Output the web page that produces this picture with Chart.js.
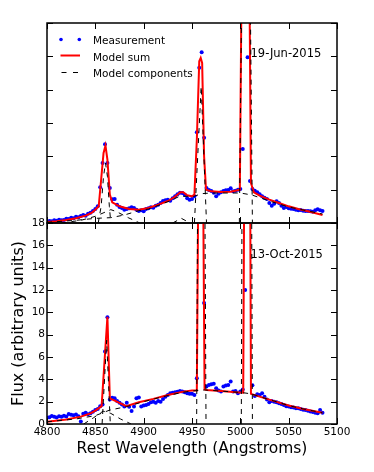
<!DOCTYPE html>
<html>
<head>
<meta charset="utf-8">
<script src="https://cdn.jsdelivr.net/npm/chart.js@4"></script>
<style>
  html, body { margin: 0; padding: 0; background: #fff; }
  #wrap { position: relative; width: 374px; height: 472px; }
  canvas { position: absolute; left: 0; }
  #top { top: 0; }
  #bottom { top: 210px; }
</style>
</head>
<body>
<div id="wrap">
  <canvas id="top" width="374" height="230" style="width:374px;height:230px"></canvas>
  <canvas id="bottom" width="374" height="262" style="width:374px;height:262px"></canvas>
</div>
<script>
// wavelength grid of the spectrum (Angstroms)
const wave = [
  4800, 4802.5, 4805, 4807.5, 4810, 4812.5, 4815, 4817.5, 4820, 4822.5,
  4825, 4827.5, 4830, 4832.5, 4835, 4837.5, 4840, 4842.5, 4845, 4847.5,
  4850, 4852.5, 4855, 4857.5, 4860, 4862.5, 4865, 4867.5, 4870, 4872.5,
  4875, 4877.5, 4880, 4882.5, 4885, 4887.5, 4890, 4892.5, 4895, 4897.5,
  4900, 4902.5, 4905, 4907.5, 4910, 4912.5, 4915, 4917.5, 4920, 4922.5,
  4925, 4927.5, 4930, 4932.5, 4935, 4937.5, 4940, 4942.5, 4945, 4947.5,
  4950, 4952.5, 4955, 4957.5, 4960, 4962.5, 4965, 4967.5, 4970, 4972.5,
  4975, 4977.5, 4980, 4982.5, 4985, 4987.5, 4990, 4992.5, 4995, 4997.5,
  5000, 5002.5, 5005, 5007.5, 5010, 5012.5, 5015, 5017.5, 5020, 5022.5,
  5025, 5027.5, 5030, 5032.5, 5035, 5037.5, 5040, 5042.5, 5045, 5047.5,
  5050, 5052.5, 5055, 5057.5, 5060, 5062.5, 5065, 5067.5, 5070, 5072.5,
  5075, 5077.5, 5080, 5082.5, 5085
];

// 19-Jun-2015 (top panel)
const fluxJun = [
  0.04, 0.06, 0.05, 0.08, 0.07, 0.10, 0.08, 0.09, 0.13, 0.12,
  0.16, 0.14, 0.19, 0.17, 0.21, 0.24, 0.22, 0.28, 0.31, 0.36,
  0.42, 0.50, 1.07, 1.80, 2.36, 1.80, 1.05, 0.71, 0.72, 0.55,
  0.48, 0.45, 0.40, 0.42, 0.44, 0.47, 0.45, 0.40, 0.36, 0.38,
  0.35, 0.42, 0.44, 0.47, 0.46, 0.52, 0.55, 0.60, 0.66, 0.68,
  0.70, 0.67, 0.74, 0.80, 0.86, 0.91, 0.90, 0.85, 0.74, 0.70,
  0.72, 0.80, 2.72, 4.66, 5.12, 2.56, 1.05, 0.99, 0.96, 0.91,
  0.80, 0.88, 0.92, 0.96, 0.98, 0.99, 1.04, 0.95, 0.97, 1.00,
  1.02, 2.22, 12.0, 4.97, 1.26, 1.02, 0.97, 0.92, 0.86, 0.80,
  0.76, 0.72, 0.60, 0.52, 0.58, 0.65, 0.60, 0.52, 0.45, 0.48,
  0.44, 0.43, 0.42, 0.40, 0.38, 0.39, 0.37, 0.36, 0.36, 0.35,
  0.34, 0.38, 0.41, 0.38, 0.36
];
const sumJunX = [4800, 4810, 4820, 4830, 4840, 4846, 4850, 4853.5, 4856, 4858.5,
  4860.5, 4862.5, 4865, 4867.5, 4875, 4885, 4895, 4905, 4915, 4925,
  4932, 4938, 4941, 4945, 4950, 4952.5, 4955, 4957.5, 4959, 4960.5,
  4962.5, 4964.5, 4970, 4980, 4990, 4999.5, 5005.5, 5011, 5014, 5020,
  5030, 5040, 5050, 5060, 5070, 5085];
const sumJunY = [0.03, 0.05, 0.09, 0.14, 0.22, 0.30, 0.40, 0.50, 1.30, 2.10,
  2.32, 1.90, 0.85, 0.62, 0.50, 0.42, 0.40, 0.45, 0.55, 0.66,
  0.78, 0.92, 0.92, 0.83, 0.80, 0.85, 2.50, 4.85, 4.95, 4.80,
  2.00, 1.00, 0.95, 0.93, 0.94, 1.00, 22, 1.20, 0.92, 0.82,
  0.70, 0.60, 0.50, 0.42, 0.35, 0.24];
const contJunX = [4800, 4830, 4850, 4866, 4880, 4895, 4905, 4920, 4930, 4937,
  4945, 4952, 4960, 4970, 5000, 5012, 5030, 5050, 5070, 5085];
const contJunY = [0.02, 0.08, 0.14, 0.16, 0.24, 0.37, 0.42, 0.58, 0.70, 0.80,
  0.80, 0.80, 0.88, 0.90, 0.90, 0.84, 0.66, 0.48, 0.36, 0.27];
const broadJunX = [4815, 4835, 4850, 4858, 4866, 4872, 4884, 4896];
const broadJunY = [0, 0.08, 0.20, 0.30, 0.40, 0.34, 0.16, 0];
const hbJunX = [4853, 4856, 4858.5, 4860.5, 4862.5, 4864.5, 4866];
const hbJunY = [0, 0.5, 1.4, 1.8, 1.4, 0.5, 0];
const bumpJunX = [4930, 4939, 4948];
const bumpJunY = [0, 0.14, 0];
const o3aJunX = [4952.5, 4959.5, 4965];
const o3aJunY = [0, 4.1, 0];
const o3bJunX = [4999, 5006, 5012.5];
const o3bJunY = [0, 20, 0];

// 13-Oct-2015 (bottom panel)
const fluxOct = [
  0.55, 0.60, 0.72, 0.65, 0.58, 0.70, 0.66, 0.75, 0.68, 0.90,
  0.82, 0.78, 0.85, 0.70, 0.22, 0.92, 1.00, 0.88, 0.96, 1.10,
  1.26, 1.35, 1.60, 1.75, 6.50, 9.55, 2.20, 2.35, 2.30, 2.05,
  1.90, 1.75, 1.56, 1.90, 1.55, 1.17, 1.56, 2.30, 2.37, 1.56,
  1.65, 1.70, 1.80, 1.95, 2.00, 1.90, 2.05, 2.00, 2.25, 2.45,
  2.60, 2.75, 2.80, 2.84, 2.88, 2.95, 2.90, 2.85, 2.75, 2.72,
  2.70, 2.60, 4.10, 30.0, 40.0, 10.84, 3.35, 3.50, 3.55, 3.60,
  3.20, 3.00, 2.90, 3.35, 3.45, 3.50, 3.80, 2.90, 2.95, 2.75,
  2.90, 3.10, 12.0, 50.0, 30.0, 3.47, 2.50, 2.66, 2.60, 2.75,
  2.45, 2.20, 1.95, 2.05, 2.00, 1.95, 1.86, 1.80, 1.70, 1.60,
  1.56, 1.50, 1.48, 1.42, 1.40, 1.35, 1.28, 1.25, 1.18, 1.12,
  1.08, 1.00, 0.96, 1.26, 1.00
];
const sumOctX = [4800, 4820, 4835, 4845, 4850, 4856.5, 4862.5, 4865, 4870, 4882,
  4895, 4910, 4925, 4941, 4950, 4955, 4958, 4960, 4963, 4965,
  4980, 4995, 5003, 5006, 5008.5, 5011, 5020, 5035, 5050, 5065, 5085];
const sumOctY = [0.20, 0.40, 0.66, 0.95, 1.20, 1.60, 9.60, 2.30, 2.10, 1.60,
  1.95, 2.25, 2.60, 2.90, 3.00, 3.00, 40, 40, 3.10, 3.05,
  2.95, 2.85, 2.80, 60, 60, 2.70, 2.45, 2.05, 1.65, 1.35, 1.00];
const contOctX = [4800, 4830, 4850, 4865, 4882, 4900, 4920, 4941, 4955, 4963,
  4980, 5003, 5011, 5020, 5035, 5050, 5065, 5085];
const contOctY = [0.20, 0.45, 0.75, 1.25, 1.55, 2.00, 2.45, 2.85, 3.00, 3.05,
  2.95, 2.80, 2.70, 2.45, 2.05, 1.65, 1.35, 1.00];
const broadOctX = [4838, 4848, 4858, 4866, 4876, 4887];
const broadOctY = [0, 0.55, 1.15, 0.95, 0.45, 0];
const hbOctX = [4857, 4861.7, 4865.5];
const hbOctY = [0, 7.5, 0];
const o3aOctX = [4954.8, 4959.3, 4964.5];
const o3aOctY = [0, 90, 0];
const o3bOctX = [5001, 5006.5, 5012.5];
const o3bOctY = [0, 150, 0];

// ticks
const xTicks = [4800, 4850, 4900, 4950, 5000, 5050, 5100];
const yTicksJun = [0, 1, 2, 3, 4, 5, 6];
const yTicksOct = [0, 2, 4, 6, 8, 10, 12, 14, 16, 18];

const FONT = "'DejaVu Sans', sans-serif";
Chart.defaults.font.family = FONT;
Chart.defaults.color = '#000';

function xy(xs, ys) {
  return xs.map((x, i) => ({ x: x, y: ys[i] }));
}
function dashed(xs, ys) {
  return { data: xy(xs, ys), showLine: true, borderColor: '#000', borderWidth: 1,
    borderDash: [5, 5], pointRadius: 0, fill: false, order: 0 };
}
function modelSum(xs, ys) {
  return { data: xy(xs, ys), showLine: true, borderColor: '#ff0000', borderWidth: 2,
    pointRadius: 0, fill: false, order: 1 };
}
function measured(xs, ys) {
  return { data: xy(xs, ys), showLine: false, pointRadius: 2, pointBorderWidth: 0,
    pointBackgroundColor: '#0000ff', backgroundColor: '#0000ff', order: 2 };
}
function useTicks(vals) {
  return scale => { scale.ticks = vals.map(v => ({ value: v })); };
}

// box with inward ticks on all four sides plus the date label
function framePlugin(yTicks, date, dateY, withLegend) {
  return {
    id: 'frame',
    afterDraw(chart) {
      const ctx = chart.ctx, a = chart.chartArea;
      const x = chart.scales.x, y = chart.scales.y;
      ctx.save();
      ctx.strokeStyle = '#000';
      ctx.lineWidth = 1;
      ctx.beginPath();
      xTicks.forEach(v => {
        const px = Math.round(x.getPixelForValue(v)) + 0.5;
        ctx.moveTo(px, a.top); ctx.lineTo(px, a.top + 6);
        ctx.moveTo(px, a.bottom); ctx.lineTo(px, a.bottom - 6);
      });
      yTicks.forEach(v => {
        const py = Math.round(y.getPixelForValue(v)) + 0.5;
        ctx.moveTo(a.left, py); ctx.lineTo(a.left + 6, py);
        ctx.moveTo(a.right, py); ctx.lineTo(a.right - 6, py);
      });
      ctx.stroke();
      ctx.lineWidth = 1.5;
      ctx.strokeRect(a.left, a.top, a.right - a.left, a.bottom - a.top);

      ctx.fillStyle = '#000';
      ctx.textBaseline = 'alphabetic';
      ctx.textAlign = 'left';
      ctx.font = '11.5px ' + FONT;
      ctx.fillText(date, 250.5, dateY);

      if (withLegend) {
        ctx.font = '10.5px ' + FONT;
        ctx.fillStyle = '#0000ff';
        [61, 79.3].forEach(cx => {
          ctx.beginPath(); ctx.arc(cx, 39.5, 1.8, 0, Math.PI * 2); ctx.fill();
        });
        ctx.strokeStyle = '#ff0000';
        ctx.lineWidth = 2;
        ctx.beginPath(); ctx.moveTo(60.5, 55.5); ctx.lineTo(80, 55.5); ctx.stroke();
        ctx.strokeStyle = '#000';
        ctx.lineWidth = 1;
        ctx.setLineDash([5, 6.5]);
        ctx.beginPath(); ctx.moveTo(61.5, 72.5); ctx.lineTo(80, 72.5); ctx.stroke();
        ctx.setLineDash([]);
        ctx.fillStyle = '#000';
        ctx.fillText('Measurement', 93, 44);
        ctx.fillText('Model sum', 93, 60.7);
        ctx.fillText('Model components', 93, 77.3);
      }
      ctx.restore();
    }
  };
}

new Chart(document.getElementById('top'), {
  type: 'scatter',
  data: {
    datasets: [
      dashed(contJunX, contJunY),
      dashed(broadJunX, broadJunY),
      dashed(hbJunX, hbJunY),
      dashed(bumpJunX, bumpJunY),
      dashed(o3aJunX, o3aJunY),
      dashed(o3bJunX, o3bJunY),
      modelSum(sumJunX, sumJunY),
      measured(wave, fluxJun)
    ]
  },
  options: {
    responsive: false,
    maintainAspectRatio: false,
    animation: false,
    layout: { padding: { left: 47, right: 37, top: 23, bottom: 7 } },
    plugins: { legend: { display: false }, tooltip: { enabled: false } },
    scales: {
      x: { type: 'linear', min: 4800, max: 5100, display: false },
      y: { type: 'linear', min: 0, max: 6, display: false }
    }
  },
  plugins: [framePlugin(yTicksJun, '19-Jun-2015', 57.3, true)]
});

new Chart(document.getElementById('bottom'), {
  type: 'scatter',
  data: {
    datasets: [
      dashed(contOctX, contOctY),
      dashed(broadOctX, broadOctY),
      dashed(hbOctX, hbOctY),
      dashed(o3aOctX, o3aOctY),
      dashed(o3bOctX, o3bOctY),
      modelSum(sumOctX, sumOctY),
      measured(wave, fluxOct)
    ]
  },
  options: {
    responsive: false,
    maintainAspectRatio: false,
    animation: false,
    layout: { padding: { left: 0, right: 37, top: 13, bottom: 0 } },
    plugins: { legend: { display: false }, tooltip: { enabled: false } },
    scales: {
      x: {
        type: 'linear', min: 4800, max: 5100,
        afterBuildTicks: useTicks(xTicks),
        afterFit: s => { s.height = 48; },
        grid: { display: false, drawTicks: false },
        border: { display: false },
        ticks: { callback: v => String(v), font: { size: 10.5 }, padding: 2,
          maxRotation: 0, autoSkip: false },
        title: { display: true, text: 'Rest Wavelength (Angstroms)',
          font: { size: 15.5 }, padding: { top: 0, bottom: 14 } }
      },
      y: {
        type: 'linear', min: 0, max: 18,
        afterBuildTicks: useTicks(yTicksOct),
        afterFit: s => { s.width = 47; },
        grid: { display: false, drawTicks: false },
        border: { display: false },
        ticks: { callback: v => String(v), font: { size: 10.5 }, padding: 2,
          autoSkip: false },
        title: { display: true, text: 'Flux (arbitrary units)',
          font: { size: 16 }, padding: { top: 9, bottom: 0 } }
      }
    }
  },
  plugins: [framePlugin(yTicksOct, '13-Oct-2015', 48.3, false)]
});
</script>
</body>
</html>
